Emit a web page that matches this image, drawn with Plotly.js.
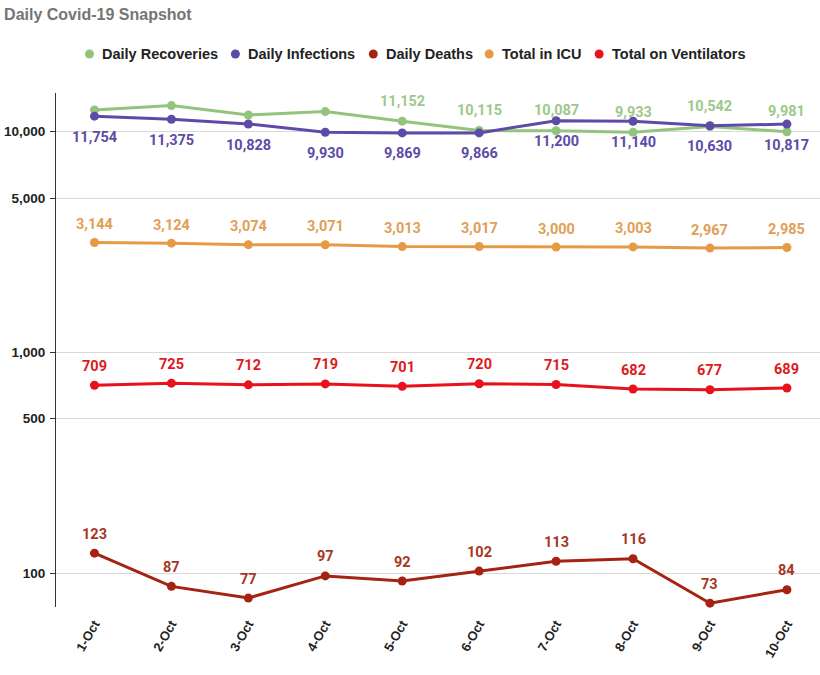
<!DOCTYPE html>
<html>
<head>
<meta charset="utf-8">
<script src="https://cdn.plot.ly/plotly-3.0.1.min.js"></script>
<style>html,body{margin:0;padding:0;background:#fff;overflow:hidden}#chart{width:820px;height:675px}</style>
</head>
<body>
<div id="chart"></div>
<script>
const dates = ['1-Oct','2-Oct','3-Oct','4-Oct','5-Oct','6-Oct','7-Oct','8-Oct','9-Oct','10-Oct'];
const recoveries = [12540, 13120, 11900, 12320, 11152, 10115, 10087, 9933, 10542, 9981];
const recoveriesShowLabel = [false, false, false, false, true, true, true, true, true, true];
const infections = [11754, 11375, 10828, 9930, 9869, 9866, 11200, 11140, 10630, 10817];
const deaths = [123, 87, 77, 97, 92, 102, 113, 116, 73, 84];
const icu = [3144, 3124, 3074, 3071, 3013, 3017, 3000, 3003, 2967, 2985];
const ventilators = [709, 725, 712, 719, 701, 720, 715, 682, 677, 689];
const seriesNames = ['Daily Recoveries', 'Daily Infections', 'Daily Deaths', 'Total in ICU', 'Total on Ventilators'];
const yTickVals = [100, 500, 1000, 5000, 10000];
const yTickText = ['100', '500', '1,000', '5,000', '10,000'];

const fmt = v => v.toLocaleString('en-US');
const LABEL_FONT = 'Roboto, "Liberation Sans", Arial, sans-serif';
const AXIS_FONT = '"Liberation Sans", Arial, sans-serif';

const lineColors = ['#93c47d', '#5e4ba8', '#a52312', '#e69a45', '#e8121c'];
const labelColors = ['#9cc98a', '#5e4ba8', '#a8361f', '#e0a055', '#dd1a20'];

// layout geometry (pixels)
const W = 820, H = 675, M = {l: 55.5, r: 0, t: 93, b: 68};
const plotW = W - M.l - M.r, plotH = H - M.t - M.b;
const pxToPaperX = px => (px - M.l) / plotW;
const pxToPaperY = py => (H - M.b - py) / plotH;
const legendDotPx = [89, 235, 373, 489, 599];
const legendY = 54;

function series(name, y, color) {
  return {
    type: 'scatter', mode: 'lines+markers', name: name, x: dates, y: y,
    line: {color: color, width: 3},
    marker: {color: color, size: 9},
    showlegend: false, hoverinfo: 'x+y', cliponaxis: false
  };
}
const annotations = [];
const shapes = [];
function labels(y, color, shift, show) {
  y.forEach((v, i) => {
    if (show && !show[i]) return;
    annotations.push({
      x: dates[i], y: Math.log10(v), xref: 'x', yref: 'y',
      text: fmt(v), showarrow: false, yshift: shift,
      xanchor: 'center', yanchor: 'middle',
      font: {family: LABEL_FONT, size: 14.5, color: color, weight: 'bold'}
    });
  });
}
labels(recoveries, labelColors[0], 20, recoveriesShowLabel);
labels(infections, labelColors[1], -21);
labels(deaths, labelColors[2], 19);
labels(icu, labelColors[3], 18);
labels(ventilators, labelColors[4], 19);

// legend: coloured dot + name
seriesNames.forEach((name, i) => {
  shapes.push({
    type: 'circle', xref: 'paper', yref: 'paper',
    xsizemode: 'pixel', ysizemode: 'pixel',
    xanchor: pxToPaperX(legendDotPx[i]), yanchor: pxToPaperY(legendY),
    x0: -4.5, x1: 4.5, y0: -4.5, y1: 4.5,
    fillcolor: lineColors[i], line: {width: 0}
  });
  annotations.push({
    x: pxToPaperX(legendDotPx[i] + 11), y: pxToPaperY(legendY), xref: 'paper', yref: 'paper',
    xanchor: 'left', yanchor: 'middle', showarrow: false, text: name,
    font: {family: AXIS_FONT, size: 14.5, color: '#222222', weight: 'bold'}
  });
});

const seriesData = [recoveries, infections, deaths, icu, ventilators];
const traces = seriesData.map((d, i) => series(seriesNames[i], d, lineColors[i]));

const layout = {
  width: W, height: H,
  paper_bgcolor: '#ffffff', plot_bgcolor: '#ffffff',
  margin: M,
  showlegend: false,
  font: {family: AXIS_FONT, color: '#222222'},
  title: {text: 'Daily Covid-19 Snapshot', x: 0.005, xanchor: 'left', xref: 'container',
    y: 0.978, yanchor: 'middle', yref: 'container',
    font: {family: AXIS_FONT, size: 16, color: '#757575', weight: 'bold'}},
  annotations: annotations,
  shapes: shapes,
  xaxis: {type: 'category', range: [-0.5, 9.43], showgrid: false, showline: false, zeroline: false,
    ticks: '', tickangle: -60, ticklabelstandoff: 6,
    tickfont: {family: AXIS_FONT, size: 13, color: '#222222', weight: 'bold'}},
  yaxis: {type: 'log', range: [1.846, 4.175], tickvals: yTickVals, ticktext: yTickText,
    showgrid: true, gridcolor: '#d9d9d9', gridwidth: 1,
    showline: true, linecolor: '#333333', linewidth: 1,
    ticks: 'outside', ticklen: 5, tickcolor: '#333333', ticklabelstandoff: 2,
    zeroline: false,
    tickfont: {family: AXIS_FONT, size: 13.5, color: '#222222', weight: 'bold'}},
  hovermode: false
};

Plotly.newPlot('chart', traces, layout, {displayModeBar: false, staticPlot: true});
</script>
</body>
</html>
